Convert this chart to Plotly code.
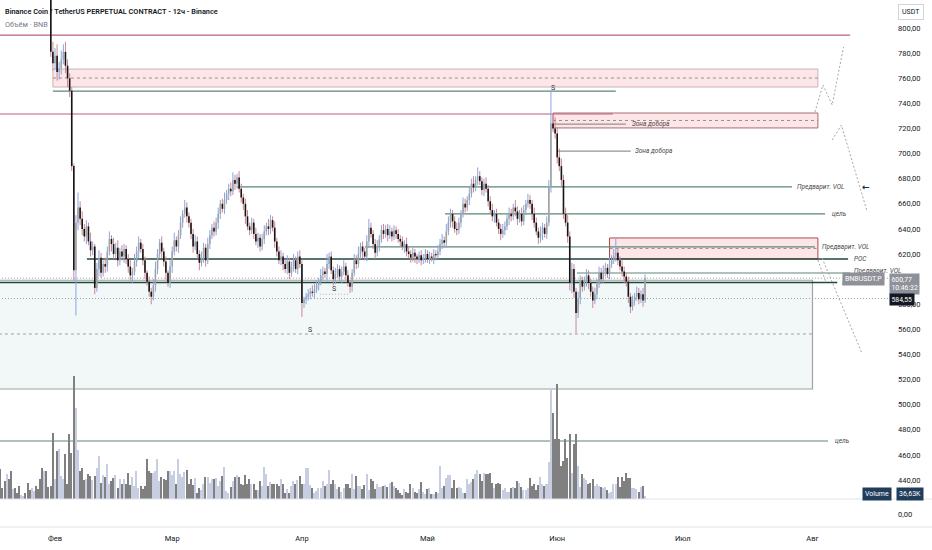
import pandas as pd
import plotly.graph_objects as go

# 12h candles from 2025-01-19 (first ones sit above the visible range)
start = "2025-01-19 00:00"
first_open = 876

closes = [
    872, 868, 865, 870, 862, 858, 866, 860, 855, 850, 858, 862, 856, 852, 848, 854, 860, 856, 850, 846, 842, 848, 844, 838,
    781, 772, 778, 765, 768, 775, 781, 770, 760, 750, 690, 607, 645, 657, 648,
    640, 634, 642, 630, 623, 626, 593, 608, 617, 605, 612, 610, 622, 632, 628, 620, 625, 615, 622, 618, 624, 616,
    610, 603, 606, 614, 622, 629, 624, 615, 605, 598, 590, 586, 595, 608, 620, 629, 622, 614, 605, 597, 610, 622, 631, 626, 635, 645, 652, 657, 650, 645,
    636, 626, 630, 620, 613, 617, 625, 615, 628, 635, 641, 638, 645, 652, 660, 656, 663, 668, 672, 670, 679, 676, 681, 672, 665, 660, 650, 642, 639, 645,
    636, 630, 633, 626, 632, 638, 642, 640, 647, 641, 630, 622, 615, 618, 612, 608, 614, 605, 610, 615, 608, 618, 612, 581, 584, 586, 588, 590, 589, 592,
    595, 598, 603, 606, 604, 612, 618, 607, 600, 604, 608, 602, 606, 610, 603, 597, 594, 605, 615, 612, 620, 626, 622, 618, 630, 641, 636, 628, 621, 626,
    632, 639, 636, 640, 635, 638, 634, 639, 636, 632, 630, 626, 628, 622, 620, 617, 621, 618, 616, 619, 615, 617, 620, 616, 618, 617, 620, 619, 622,
    628, 631, 629, 638, 645, 652, 646, 640, 639, 645, 652, 660, 657, 663, 668, 676, 673, 679, 682, 678, 671, 676, 672, 662, 655, 650, 652, 645, 640, 636, 639,
    642, 648, 652, 650, 657, 654, 648, 652, 646, 655, 660, 663, 660, 652, 645, 638, 633, 637, 641, 636, 645, 673,
    724, 720, 716, 697, 690, 679, 652, 645, 634, 597, 608, 590, 573, 585, 599, 594, 598, 603, 597, 590, 583, 588, 596, 605, 600,
    606, 609, 604, 612, 615, 618, 621, 615, 610, 606, 602, 598, 586, 578, 583, 586, 589, 584, 588, 583, 600.77,
]

# wick length above / below the body
hi_ext = [
    4, 6, 3, 5, 4, 7, 3, 5, 4, 6, 3, 5, 4, 6, 3, 4, 5, 3, 6, 4, 5, 3, 4, 6,
    5, 8, 6, 9, 5, 7, 6, 8, 5, 4, 3, 2, 6, 12, 5,
    6, 4, 5, 3, 7, 4, 2, 5, 6, 4, 3, 5, 4, 6, 3, 5, 4, 6, 3, 5, 4, 3,
    4, 5, 3, 6, 4, 5, 3, 4, 3, 2, 4, 3, 5, 6, 4, 3, 5, 3, 4, 2, 5, 4, 6, 3, 4, 5, 3, 6, 4, 3,
    3, 4, 5, 4, 3, 5, 4, 3, 5, 4, 3, 5, 4, 5, 3, 4, 6, 3, 4, 5, 6, 4, 3, 5, 4, 3, 4, 5, 3, 4,
    3, 5, 4, 3, 4, 5, 3, 6, 4, 3, 5, 3, 4, 5, 3, 4, 5, 3, 4, 5, 3, 4, 5, 3, 2, 3, 4, 3, 5, 4,
    4, 3, 5, 4, 3, 8, 3, 4, 3, 5, 4, 3, 4, 5, 3, 4, 2, 3, 5, 4, 6, 3, 4, 3, 5, 7, 4, 3, 4, 5,
    3, 4, 5, 3, 4, 5, 3, 4, 3, 4, 3, 4, 3, 5, 4, 3, 4, 3, 2, 3, 4, 3, 4, 3, 4, 3, 4, 3, 5,
    4, 5, 3, 6, 5, 4, 3, 4, 5, 4, 3, 5, 4, 3, 5, 4, 6, 3, 7, 4, 3, 4, 5, 3, 4, 5, 3, 4, 3, 4, 5,
    4, 3, 5, 4, 3, 6, 4, 3, 5, 4, 3, 5, 4, 3, 5, 4, 3, 5, 4, 3, 5, 6,
    26, 8, 9, 5, 7, 6, 4, 5, 6, 4, 5, 4, 3, 5, 4, 3, 4, 5, 4, 3, 4, 5, 4, 5, 4,
    5, 4, 3, 5, 4, 6, 12, 4, 3, 5, 4, 3, 4, 3, 4, 3, 5, 4, 3, 5, 3,
]
lo_ext = [
    3, 5, 4, 3, 6, 4, 3, 5, 4, 3, 5, 4, 3, 6, 4, 3, 5, 4, 3, 5, 4, 3, 5, 6,
    4, 6, 5, 7, 6, 5, 4, 6, 7, 5, 4, 8, 36, 6, 5,
    5, 4, 6, 3, 5, 4, 5, 3, 6, 4, 3, 5, 4, 3, 6, 4, 3, 5, 4, 3, 5, 4,
    5, 4, 6, 3, 4, 5, 3, 4, 5, 3, 4, 6, 3, 5, 4, 3, 5, 4, 6, 3, 4, 5, 3, 4, 5, 3, 4, 3, 5, 4,
    4, 5, 3, 4, 6, 3, 4, 5, 3, 4, 3, 4, 3, 5, 4, 3, 4, 3, 5, 4, 3, 5, 4, 3, 4, 5, 6, 3, 4, 3,
    4, 3, 5, 4, 3, 4, 3, 5, 4, 3, 5, 4, 3, 4, 5, 3, 4, 5, 3, 4, 3, 4, 3, 11, 4, 4, 3, 4, 3, 4,
    3, 4, 3, 4, 3, 5, 4, 3, 5, 4, 3, 4, 5, 3, 4, 3, 5, 4, 3, 4, 3, 4, 5, 3, 4, 5, 3, 4, 5, 3,
    4, 3, 4, 3, 5, 3, 4, 3, 4, 3, 4, 3, 5, 4, 3, 4, 3, 5, 4, 3, 4, 3, 4, 3, 4, 3, 5, 4, 3,
    3, 4, 3, 4, 3, 4, 5, 3, 4, 3, 4, 3, 4, 3, 4, 3, 4, 3, 4, 3, 4, 5, 3, 4, 3, 4, 5, 3, 4, 5, 3,
    4, 3, 5, 4, 3, 4, 5, 3, 4, 3, 4, 3, 4, 5, 4, 3, 5, 4, 6, 3, 4, 3,
    4, 3, 4, 5, 4, 5, 4, 3, 5, 6, 8, 5, 16, 4, 5, 4, 3, 4, 5, 4, 6, 3, 4, 3, 4,
    3, 4, 3, 4, 3, 3, 4, 4, 3, 4, 5, 4, 5, 5, 3, 4, 3, 4, 3, 5, 2,
]

# volume, thousands of BNB
volume_k = [
    360, 130, 220, 300, 250, 340, 120, 135, 75, 160, 50, 40, 75, 195, 110, 135, 100, 160, 120, 245,
    380, 340, 340, 145, 160, 800, 245, 585, 610, 280, 245, 550, 185, 790, 560, 1500, 1110, 600, 340, 380,
    230, 245, 305, 280, 230, 280, 380, 525, 195, 295, 270, 425, 185, 220, 255, 295, 135, 245, 185, 245,
    185, 315, 170, 270, 160, 340, 135, 160, 120, 160, 490, 340, 315, 315, 340, 490, 220, 270, 245, 230,
    340, 340, 295, 340, 185, 490, 305, 270, 330, 355, 185, 245, 170, 255, 75, 135, 110, 185, 270, 270,
    195, 245, 245, 255, 160, 220, 280, 390, 100, 75, 145, 220, 270, 295, 270, 185, 170, 295, 185, 245,
    185, 185, 110, 110, 220, 160, 390, 305, 160, 205, 185, 185, 185, 160, 245, 185, 75, 120, 75, 160,
    220, 185, 230, 280, 185, 185, 380, 380, 170, 135, 75, 100, 135, 135, 220, 160, 185, 355,
    180, 228, 180, 118, 150, 89, 138, 180, 187, 138, 301, 118, 281, 159, 159, 118, 167, 301, 106, 240,
    220, 118, 180, 150, 150, 159, 167, 150, 199, 207, 159, 138, 106, 77, 49, 118, 89, 77, 187, 138,
    89, 77, 118, 207, 89, 65, 118, 130, 65, 65, 85, 77, 403, 138, 159, 260, 293, 293, 138, 228,
    138, 150, 130, 77, 77, 240, 180, 211, 240, 301, 350, 301, 220, 313, 309, 301, 313, 199, 138, 180,
    199, 187, 106, 138, 89, 89, 130, 150, 130, 220, 199, 150, 106, 106, 138, 260, 159, 180, 106, 171,
    268, 180, 159, 187, 455, 1338, 1053, 728, 1407, 728, 403, 464, 728, 496, 797, 321, 675, 797, 403, 150,
    301, 260, 228, 187, 199, 240, 159, 180, 159, 150, 138, 150, 106, 77, 89, 180, 187, 268, 150, 268,
    220, 321, 260, 260, 138, 130, 118, 89, 150, 159, 37,
]

month_starts = ["2025-02-01", "2025-03-01", "2025-04-01", "2025-05-01", "2025-06-01", "2025-07-01", "2025-08-01"]
month_names = ["Фев", "Мар", "Апр", "Май", "Июн", "Июл", "Авг"]
# 600,00 sits under the last-price label on the scale, so it is not shown
price_ticks = [440, 460, 480, 500, 520, 540, 560, 580, 620, 640, 660, 680, 700, 720, 740, 760, 780, 800]

# drawn levels: (price, from, to)
red_levels = [(794.4, "2025-01-10", "2025-08-10"), (731.5, "2025-01-10", "2025-06-14 07:00")]
green_levels = [
    (749.8, "2025-01-31 12:00", "2025-06-15"),
    (673.4, "2025-03-16 12:00", "2025-07-27 02:00"),
    (651.9, "2025-05-05 05:00", "2025-08-04"),
    (625.7, "2025-04-16 02:00", "2025-08-01 14:00"),
    (604.9, "2025-06-05 17:00", "2025-08-10"),
    (471.1, "2025-01-10", "2025-08-04 17:00"),
]
poc_levels = [(616.1, "2025-02-08 15:00", "2025-08-09 12:00"), (597.3, "2025-01-10", "2025-08-06 22:00")]
grey_levels = [(723.5, "2025-05-31 00:00", "2025-06-17 10:00"), (702.0, "2025-05-31 23:00", "2025-06-18 14:00")]
dotted_levels = [600.77, 584.55]

# zones: (from, to, low, high, border)
pink_zones = [
    ("2025-01-31 12:00", "2025-08-02 07:00", 753.0, 767.3, "#c9b3b6"),
    ("2025-05-31 00:00", "2025-08-02 07:00", 720.4, 732.3, "#a86b70"),
    ("2025-06-13 12:00", "2025-08-02 07:00", 616.1, 632.8, "#b04a4a"),
]
range_zone = ("2025-01-10", "2025-08-01", 512.5, 599.1)
range_mid = 556.3

# hand-drawn projection paths
proj_paths = [
    (["2025-08-01 14:00", "2025-08-03 12:00", "2025-08-05 17:00", "2025-08-08 10:00"], [733.1, 754.6, 738.7, 784.9]),
    (["2025-08-05 17:00", "2025-08-07 22:00", "2025-08-14 02:00"], [710.8, 722.7, 653.5]),
    (["2025-08-03 07:00", "2025-08-12 19:00"], [616.8, 541.2]),
    (["2025-08-02 07:00", "2025-08-04 05:00"], [615.2, 597.7]),
]

# text notes: (text, date, price)
notes = [
    ("Зона добора", "2025-06-18 09:00", 723.5),
    ("Зона добора", "2025-06-19 01:00", 702.0),
    ("Предварит. VOL", "2025-07-27 20:00", 673.4),
    ("цель", "2025-08-05 04:00", 651.9),
    ("Предварит. VOL", "2025-08-02 19:00", 625.7),
    ("POC", "2025-08-10 10:00", 616.1),
    ("Предварит. VOL", "2025-08-10 10:00", 606.8),
    ("POC", "2025-08-07 14:00", 597.3),
    ("цель", "2025-08-05 22:00", 471.1),
]
s_marks = [("2025-05-31 00:00", 752.0), ("2025-04-02 22:00", 559.5), ("2025-04-08 16:00", 592.0)]

n = min(len(closes), len(hi_ext), len(lo_ext), len(volume_k))
closes, hi_ext, lo_ext, volume_k = closes[:n], hi_ext[:n], lo_ext[:n], volume_k[:n]
dates = pd.date_range(start, periods=n, freq="12h")
opens = [first_open] + closes[:-1]
highs = [max(o, c) + h for o, c, h in zip(opens, closes, hi_ext)]
lows = [min(o, c) - l for o, c, l in zip(opens, closes, lo_ext)]
rising = [c >= o for o, c in zip(opens, closes)]


def segments(want, y0s, y1s):
    xs, ys = [], []
    for t, r, a, b in zip(dates, rising, y0s, y1s):
        if r == want:
            xs += [t, t, None]
            ys += [a, b, None]
    return xs, ys


FONT = "Roboto, Liberation Sans, sans-serif"
UP_BODY, DOWN_BODY = "#a3a3a3", "#151515"
UP_WICK, DOWN_WICK = "#86a6e8", "#cf8592"
GREEN, POC, RED = "#5b8677", "#1d4a3c", "#b8607c"

fig = go.Figure()

fig.add_trace(go.Bar(
    x=dates, y=volume_k, yaxis="y2", width=12 * 3600 * 1000 * 0.72,
    marker=dict(color=["#c7cee2" if r else "#808080" for r in rising], line=dict(width=0)),
    hoverinfo="skip",
))

for want, color in [(True, UP_WICK), (False, DOWN_WICK)]:
    xs, ys = segments(want, lows, highs)
    fig.add_trace(go.Scatter(x=xs, y=ys, mode="lines", line=dict(color=color, width=1), hoverinfo="skip"))
for want, color in [(True, UP_BODY), (False, DOWN_BODY)]:
    xs, ys = segments(want, opens, closes)
    fig.add_trace(go.Scatter(x=xs, y=ys, mode="lines", line=dict(color=color, width=1.6), hoverinfo="skip"))

for px, py in proj_paths:
    fig.add_trace(go.Scatter(x=px, y=py, mode="lines", line=dict(color="#a4a7ae", width=1, dash="2px,2px"), hoverinfo="skip"))

# empty trace so the lower pane exists
fig.add_trace(go.Scatter(x=[], y=[], yaxis="y3"))

shapes = []
rx0, rx1, ry0, ry1 = range_zone
shapes.append(dict(type="rect", x0=rx0, x1=rx1, y0=ry0, y1=ry1, fillcolor="#f2f8f8", line=dict(color="#a2a2a2", width=1.2), layer="below"))
shapes.append(dict(type="line", x0=rx0, x1=rx1, y0=range_mid, y1=range_mid, line=dict(color="#a0a0a0", width=1.2, dash="3px,3px"), layer="below"))
for zx0, zx1, lo, hi, border in pink_zones:
    shapes.append(dict(type="rect", x0=zx0, x1=zx1, y0=lo, y1=hi, fillcolor="#fde6e8", line=dict(color=border, width=1), layer="below"))
    mid = (lo + hi) / 2
    shapes.append(dict(type="line", x0=zx0, x1=zx1, y0=mid, y1=mid, line=dict(color="#9c8a8c", width=1, dash="3px,3px"), layer="below"))
for p, a, b in red_levels:
    shapes.append(dict(type="line", x0=a, x1=b, y0=p, y1=p, line=dict(color=RED, width=1.2), layer="below"))
for p, a, b in green_levels:
    shapes.append(dict(type="line", x0=a, x1=b, y0=p, y1=p, line=dict(color=GREEN, width=1.2), layer="below"))
for p, a, b in poc_levels:
    shapes.append(dict(type="line", x0=a, x1=b, y0=p, y1=p, line=dict(color=POC, width=1.5), layer="below"))
for p, a, b in grey_levels:
    shapes.append(dict(type="line", x0=a, x1=b, y0=p, y1=p, line=dict(color="#8d9692", width=1.2), layer="below"))
for p in dotted_levels:
    shapes.append(dict(type="line", x0="2025-01-10", x1="2025-08-25", y0=p, y1=p, line=dict(color="#9a9da5", width=1, dash="1px,2px"), layer="below"))
shapes.append(dict(type="line", x0="2025-04-05 07:00", x1="2025-04-12", y0=588, y1=588, line=dict(color="#d6a5ad", width=1, dash="1px,2px"), layer="below"))
# pane separators
for yy in [1 - 499 / 550, 1 - 527 / 550]:
    shapes.append(dict(type="line", xref="paper", yref="paper", x0=0, x1=1, y0=yy, y1=yy, line=dict(color="#e0e3eb", width=1)))

ann = []
note_font = dict(family=FONT, size=6.5, color="#4a4a4a", style="italic")
for text, d, p in notes:
    ann.append(dict(x=d, y=p, text=text, showarrow=False, xanchor="left", yanchor="middle", font=note_font))
for d, p in s_marks:
    ann.append(dict(x=d, y=p, text="S", showarrow=False, xanchor="center", yanchor="middle", font=dict(family=FONT, size=7, color="#333")))
ann.append(dict(x="2025-08-13 20:00", y=673.4, text="<b>←</b>", showarrow=False, xanchor="center", font=dict(family="DejaVu Sans", size=9, color="#2a2e39")))

ann.append(dict(xref="paper", yref="paper", x=3 / 932, y=1 - 11 / 550, xanchor="left", yanchor="middle", showarrow=False,
                text="Binance Coin / TetherUS PERPETUAL CONTRACT - 12ч - Binance",
                font=dict(family=FONT, size=7.3, color="#131722", weight=600)))
ann.append(dict(xref="paper", yref="paper", x=3 / 932, y=1 - 24 / 550, xanchor="left", yanchor="middle", showarrow=False,
                text="Объём · BNB", font=dict(family=FONT, size=7.3, color="#787b86")))

ann.append(dict(xref="paper", yref="paper", x=898 / 932, y=1 - 12 / 550, xanchor="left", yanchor="middle", showarrow=False,
                text="USDT", bgcolor="white", bordercolor="#d1d4dc", borderwidth=1, borderpad=3,
                font=dict(family=FONT, size=7, color="#131722")))
ann.append(dict(xref="paper", yref="y", x=885 / 932, y=closes[-1] - 0.8, xanchor="right", yanchor="middle", showarrow=False,
                text="BNBUSDT.P", bgcolor="#8e9199", borderpad=2, font=dict(family=FONT, size=7, color="white")))
ann.append(dict(xref="paper", yref="y", x=889 / 932, y=604.7, xanchor="left", yanchor="top", showarrow=False,
                text="600,77<br>10:46:32", align="left", bgcolor="#8e9199", borderpad=1.5,
                font=dict(family=FONT, size=6.8, color="white")))
ann.append(dict(xref="paper", yref="y", x=889 / 932, y=584.0, xanchor="left", yanchor="middle", showarrow=False,
                text="584,55", bgcolor="#131722", borderpad=1.5, font=dict(family=FONT, size=6.8, color="white")))
ann.append(dict(xref="paper", yref="paper", x=862 / 932, y=1 - 494 / 550, xanchor="left", yanchor="middle", showarrow=False,
                text="Volume", bgcolor="#213d5c", borderpad=2, font=dict(family=FONT, size=7, color="white")))
ann.append(dict(xref="paper", yref="paper", x=896 / 932, y=1 - 494 / 550, xanchor="left", yanchor="middle", showarrow=False,
                text="36,63K", bgcolor="#213d5c", borderpad=2, font=dict(family=FONT, size=7, color="white")))

fig.update_layout(
    width=932, height=550, margin=dict(l=0, r=0, t=0, b=0),
    paper_bgcolor="white", plot_bgcolor="white", showlegend=False,
    separators=", ",
    font=dict(family=FONT, size=7.5, color="#131722"),
    shapes=shapes, annotations=ann, bargap=0,
    xaxis=dict(type="date", domain=[0, 888 / 932], range=["2025-01-18 20:35", "2025-08-19 01:00"], anchor="y3",
               tickvals=month_starts, ticktext=month_names, showgrid=False, zeroline=False, showline=False,
               ticks="", ticklabelstandoff=5, tickfont=dict(size=7.5)),
    yaxis=dict(domain=[1 - 499 / 550, 1], range=[424.9, 822.3], side="right", anchor="x", tickvals=price_ticks,
               tickformat=".2f", showgrid=False, zeroline=False, showline=False, ticks="", ticklabelstandoff=9),
    yaxis2=dict(overlaying="y", range=[0, 499 * 12.2], visible=False, fixedrange=True),
    yaxis3=dict(domain=[1 - 527 / 550, 1 - 501 / 550], range=[-1, 1], side="right", anchor="x", tickvals=[0],
                ticktext=["0,00"], showgrid=False, zeroline=False, showline=False, ticks="", ticklabelstandoff=9),
)

# the page's default body margin would push the 932x550 figure off the window
fig.write_html("out.html", config={"displayModeBar": False},
               post_script="document.body.style.margin='0';document.body.style.overflow='hidden';")
